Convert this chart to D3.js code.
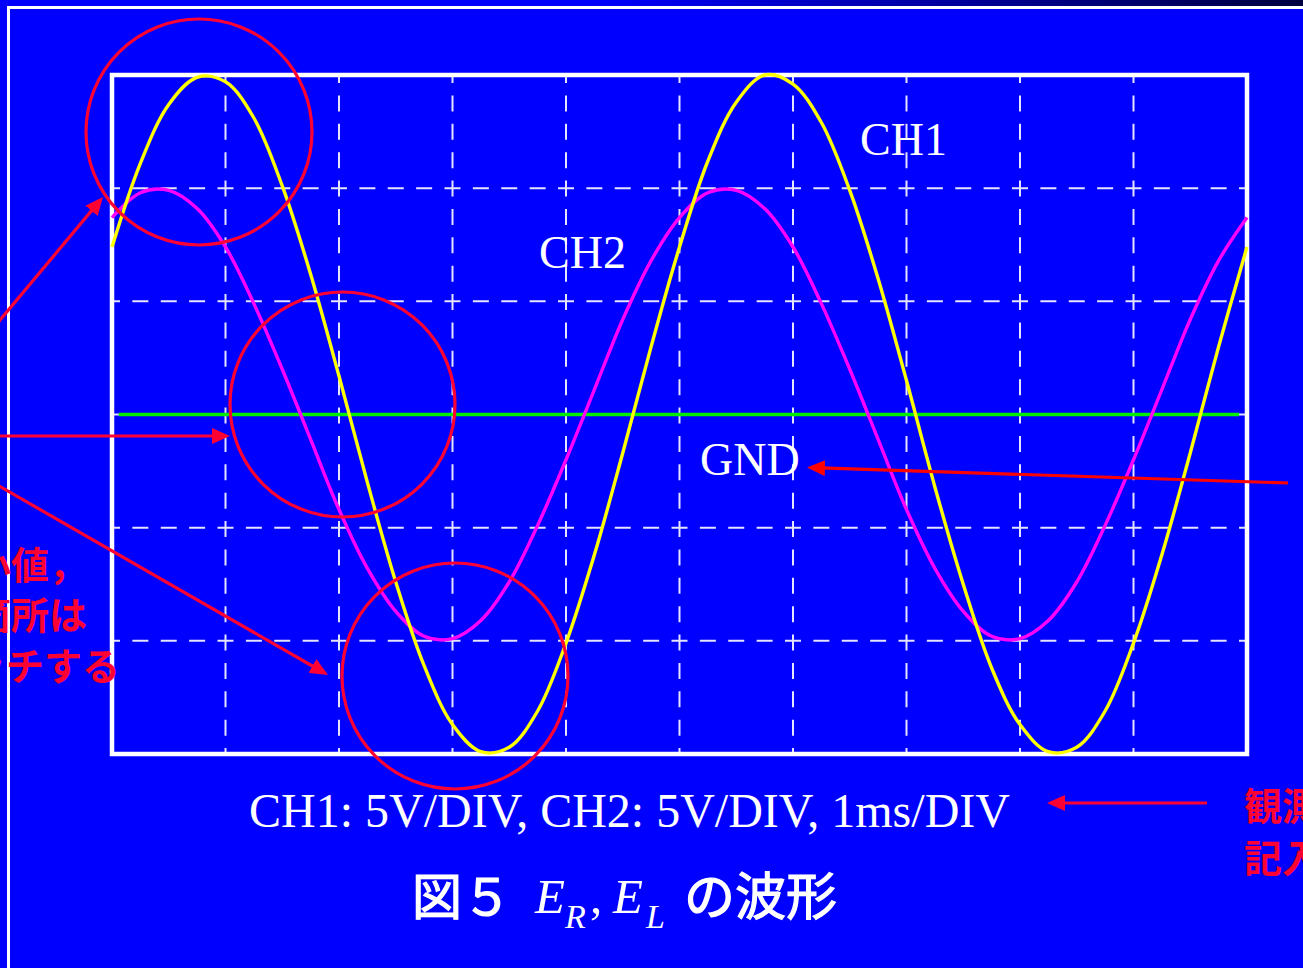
<!DOCTYPE html>
<html>
<head>
<meta charset="utf-8">
<script src="https://cdn.jsdelivr.net/npm/d3@7"></script>
<style>
  body { margin: 0; background: #0000ff; overflow: hidden; }
  svg { display: block; }
</style>
</head>
<body>
<svg></svg>
<script>
// sample times (ms) and the two traces (V)
var timeMs = [0, 0.25, 0.5, 0.75, 1, 1.25, 1.5, 1.75, 2, 2.25, 2.5, 2.75, 3, 3.25, 3.5, 3.75,
  4, 4.25, 4.5, 4.75, 5, 5.25, 5.5, 5.75, 6, 6.25, 6.5, 6.75, 7, 7.25, 7.5, 7.75,
  8, 8.25, 8.5, 8.75, 9, 9.25, 9.5, 9.75, 10]
var ch1Volts = [7.4, 11.1, 13.7, 14.9, 14.7, 13.1, 10.1, 6.2, 1.7, -3.0, -7.4, -11.1, -13.7, -14.9, -14.7, -13.1,
  -10.1, -6.2, -1.7, 3.0, 7.4, 11.2, 13.8, 15.0, 14.6, 12.9, 9.9, 6.0, 1.5, -3.2, -7.5, -11.2, -13.7, -14.9, -14.7, -13.1,
  -10.1, -6.2, -1.7, 3.0, 7.4]
var ch2Volts = [8.7, 9.8, 9.9, 9.1, 7.4, 4.9, 2.0, -1.1, -4.2, -6.8, -8.7, -9.8, -9.9, -9.1, -7.4, -4.9,
  -2.0, 1.1, 4.2, 6.8, 8.7, 9.8, 9.9, 9.1, 7.4, 4.9, 2.0, -1.1, -4.2, -6.8, -8.7, -9.8, -9.9, -9.1, -7.4, -4.9,
  -2.0, 1.1, 4.2, 6.8, 8.7]

// 10 x 6 divisions, 1ms/DIV and 5V/DIV
var timeTicks = [1, 2, 3, 4, 5, 6, 7, 8, 9]
var voltTicks = [-10, -5, 0, 5, 10]
var gndSpan = [0.06, 9.93]

var labels = [
  {text: 'CH1', x: 860, y: 155},
  {text: 'CH2', x: 539, y: 268},
  {text: 'GND', x: 700, y: 475}
]
var settingText = 'CH1: 5V/DIV, CH2: 5V/DIV, 1ms/DIV'

var red = '#ff0033'

var svg = d3.select('svg').attr('width', 1303).attr('height', 968)

var defs = svg.append('defs')
var grad = defs.append('linearGradient').attr('id', 'topfade')
grad.append('stop').attr('offset', '0.45').attr('stop-color', '#0000ff')
grad.append('stop').attr('offset', '1').attr('stop-color', '#000040')

function addHead(id, color) {
  defs.append('marker')
    .attr('id', id)
    .attr('markerUnits', 'userSpaceOnUse')
    .attr('markerWidth', 20).attr('markerHeight', 16)
    .attr('refX', 12).attr('refY', 8)
    .attr('orient', 'auto')
    .append('path')
    .attr('d', 'M0,0 L18,8 L0,16 Z')
    .attr('fill', color)
}
addHead('head', red)
addHead('head2', '#ff0000')

// background + slide frame
svg.append('rect').attr('width', 1303).attr('height', 968).attr('fill', '#0000ff')
svg.append('rect').attr('width', 1303).attr('height', 7).attr('fill', 'url(#topfade)')
svg.append('path')
  .attr('d', 'M8.5,990 L8.5,7.5 L1310,7.5')
  .attr('fill', 'none').attr('stroke', '#ffffff').attr('stroke-width', 3)

var x = d3.scaleLinear().domain([0, 10]).range([112, 1247])
var y = d3.scaleLinear().domain([-15, 15]).range([754, 75])

var step = (x(1) - x(0)) / 4
var dash = '16,' + (step - 16)

var grid = svg.append('g').attr('class', 'grid')
  .attr('stroke', '#e4e4ff').attr('stroke-width', 2)
  .attr('stroke-dasharray', dash).attr('stroke-dashoffset', 8)

grid.selectAll('line.v').data(timeTicks).enter().append('line')
  .attr('class', 'v')
  .attr('x1', function(d) {return x(d)}).attr('x2', function(d) {return x(d)})
  .attr('y1', y(15)).attr('y2', y(-15))

grid.selectAll('line.h').data(voltTicks).enter().append('line')
  .attr('class', 'h')
  .attr('y1', function(d) {return y(d)}).attr('y2', function(d) {return y(d)})
  .attr('x1', x(0)).attr('x2', x(10))

svg.append('rect')
  .attr('x', x(0)).attr('y', y(15))
  .attr('width', x(10) - x(0)).attr('height', y(-15) - y(15))
  .attr('fill', 'none').attr('stroke', '#ffffff').attr('stroke-width', 4.5)

// ground line
svg.append('line')
  .attr('x1', x(gndSpan[0])).attr('x2', x(gndSpan[1]))
  .attr('y1', y(0)).attr('y2', y(0))
  .attr('stroke', '#00ee00').attr('stroke-width', 3.5)

// traces
var line = d3.line()
  .x(function(d) {return x(d.t)})
  .y(function(d) {return y(d.v)})
  .curve(d3.curveCatmullRom)

function trace(values) {
  return timeMs.map(function(t, i) {return {t: t, v: values[i]}})
}

svg.append('path').datum(trace(ch2Volts))
  .attr('d', line).attr('fill', 'none')
  .attr('stroke', '#ff00ff').attr('stroke-width', 3.4)

svg.append('path').datum(trace(ch1Volts))
  .attr('d', line).attr('fill', 'none')
  .attr('stroke', '#ffff00').attr('stroke-width', 3.4)

// white labels
svg.selectAll('text.lbl').data(labels).enter().append('text')
  .attr('class', 'lbl')
  .attr('x', function(d) {return d.x}).attr('y', function(d) {return d.y})
  .attr('font-family', 'Liberation Serif, serif').attr('font-size', 46)
  .attr('fill', '#ffffff')
  .text(function(d) {return d.text})

svg.append('text')
  .attr('x', 249).attr('y', 827)
  .attr('font-family', 'Liberation Serif, serif').attr('font-size', 48)
  .attr('fill', '#ffffff')
  .text(settingText)

// caption: 図５ E_R, E_L の波形
var cap = svg.append('g').attr('fill', '#ffffff')
var jp = 'Noto Sans CJK JP, sans-serif'
var serif = 'Liberation Serif, serif'
cap.append('text').attr('x', 412).attr('y', 915)
  .attr('font-family', jp).attr('font-size', 50)
  .attr('stroke', '#ffffff').attr('stroke-width', 1.2).text('図５')
cap.append('text').attr('x', 535).attr('y', 913)
  .attr('font-family', serif).attr('font-style', 'italic').attr('font-size', 49).text('E')
cap.append('text').attr('x', 565).attr('y', 928)
  .attr('font-family', serif).attr('font-style', 'italic').attr('font-size', 34).text('R')
cap.append('text').attr('x', 590).attr('y', 913)
  .attr('font-family', serif).attr('font-size', 49).text(',')
cap.append('text').attr('x', 613).attr('y', 913)
  .attr('font-family', serif).attr('font-style', 'italic').attr('font-size', 49).text('E')
cap.append('text').attr('x', 646).attr('y', 928)
  .attr('font-family', serif).attr('font-style', 'italic').attr('font-size', 34).text('L')
cap.append('text').attr('x', 684).attr('y', 915)
  .attr('font-family', jp).attr('font-size', 51)
  .attr('stroke', '#ffffff').attr('stroke-width', 1.2).text('の波形')

// red annotation marks
var circles = [
  {cx: 199, cy: 132, r: 113},
  {cx: 342.5, cy: 404.5, r: 112.5},
  {cx: 455, cy: 676, r: 113}
]
svg.selectAll('circle.mark').data(circles).enter().append('circle')
  .attr('class', 'mark')
  .attr('cx', function(d) {return d.cx}).attr('cy', function(d) {return d.cy})
  .attr('r', function(d) {return d.r})
  .attr('fill', 'none').attr('stroke', red).attr('stroke-width', 3.2)

var arrows = [
  {x1: -20, y1: 344, x2: 103, y2: 197, c: red, m: 'head'},
  {x1: -10, y1: 436, x2: 230, y2: 436, c: red, m: 'head'},
  {x1: -20, y1: 475, x2: 328, y2: 675, c: red, m: 'head'},
  {x1: 1288, y1: 483, x2: 807, y2: 467.5, c: '#ff0000', m: 'head2'},
  {x1: 1207, y1: 803, x2: 1047, y2: 803, c: red, m: 'head'}
]
// pull the line end back so the marker tip lands on (x2, y2)
arrows.forEach(function(a) {
  var dx = a.x2 - a.x1, dy = a.y2 - a.y1
  var len = Math.sqrt(dx * dx + dy * dy)
  a.ex = a.x2 - dx / len * 6
  a.ey = a.y2 - dy / len * 6
})
svg.selectAll('line.arrow').data(arrows).enter().append('line')
  .attr('class', 'arrow')
  .attr('x1', function(d) {return d.x1}).attr('y1', function(d) {return d.y1})
  .attr('x2', function(d) {return d.ex}).attr('y2', function(d) {return d.ey})
  .attr('stroke', function(d) {return d.c}).attr('stroke-width', 3.2)
  .attr('marker-end', function(d) {return 'url(#' + d.m + ')'})

// notes that run off the slide edge, as on the original slide
var notes = [
  {text: '最大値，最小値，', x: 87, y: 579, anchor: 'end'},
  {text: 'ゼロの箇所は', x: 87, y: 629, anchor: 'end'},
  {text: 'グラフにタッチする', x: 120, y: 680, anchor: 'end'},
  {text: '観測値を', x: 1244, y: 820, anchor: 'start'},
  {text: '記入する', x: 1244, y: 872, anchor: 'start'}
]
svg.selectAll('text.note').data(notes).enter().append('text')
  .attr('class', 'note')
  .attr('x', function(d) {return d.x}).attr('y', function(d) {return d.y})
  .attr('text-anchor', function(d) {return d.anchor})
  .attr('font-family', jp).attr('font-weight', 'bold').attr('font-size', 38)
  .attr('fill', red)
  .text(function(d) {return d.text})
</script>
</body>
</html>
